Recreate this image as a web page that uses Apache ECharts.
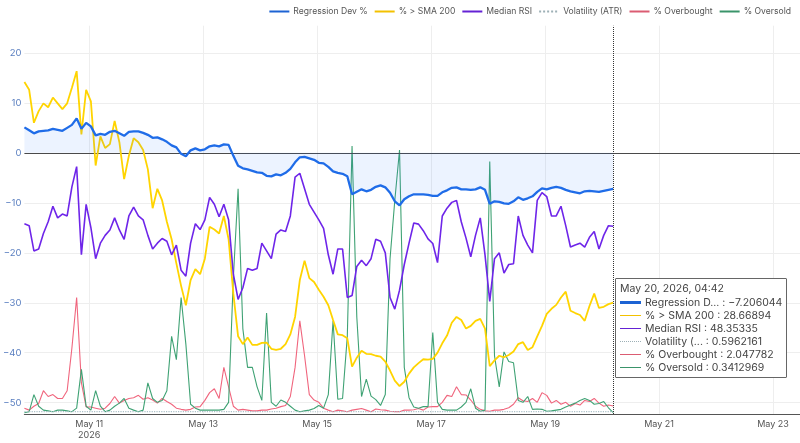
<!DOCTYPE html>
<html><head><meta charset="utf-8">
<script src="https://cdn.jsdelivr.net/npm/echarts@6/dist/echarts.min.js"></script>
<style>html,body{margin:0;padding:0;background:#fff}#c{width:800px;height:443px}</style>
</head><body><div id="c"></div>
<script>
// ---- data (2-hour samples starting 2026-05-09 20:42 UTC) ----
const START_ISO = '2026-05-09T20:42:00Z';
const STEP_HOURS = 2;

const regDev = [5.1,4.5,3.9,4.3,4.4,4.5,4.8,4.6,4.4,5.0,5.6,6.9,4.8,6.0,5.3,3.5,3.8,3.6,4.2,4.4,
3.9,3.4,4.2,4.3,4.3,4.0,3.6,3.0,3.1,2.7,2.2,1.5,1.1,-0.2,-0.7,0.5,0.9,0.5,0.7,1.3,
1.5,1.3,1.7,1.6,-0.6,-2.6,-3.1,-3.3,-3.6,-3.9,-4.0,-4.6,-4.7,-4.3,-4.5,-4.0,-3.2,-1.9,-0.9,-0.8,
-1.1,-1.4,-2.0,-2.1,-2.8,-3.7,-4.0,-4.2,-4.7,-8.3,-7.8,-7.3,-7.7,-7.4,-6.8,-6.5,-6.9,-8.0,-9.7,-10.5,
-9.3,-8.7,-8.3,-8.3,-8.3,-8.4,-8.6,-8.6,-7.9,-7.5,-7.0,-6.9,-7.3,-7.3,-7.4,-7.3,-6.9,-7.4,-10.2,-9.7,
-9.8,-10.1,-10.2,-9.7,-8.9,-9.4,-9.1,-8.7,-7.8,-7.1,-7.3,-7.0,-6.8,-7.0,-7.4,-7.7,-7.9,-8.1,-7.7,-7.6,
-7.7,-7.8,-7.6,-7.4,-7.206044];

const smaAbove = [85.5,83.5,75,78,80,79,81.5,80,78.5,80,84,88.3,72,83.5,80.5,64,71.5,68.5,69.5,75.5,
70,60.5,66.5,71,70,68,63,53,58,55,49.5,45,38.8,33,28,34.5,37.3,36,40,48.2,
47.5,46.5,51,45,31,20,18,19.7,17.8,17.8,18.3,18.4,16.8,16.5,16.8,18,20.5,25,34.5,39.5,
35,34,32,30.2,28,24.2,20.5,20.3,19.5,12.2,14.5,16.3,15.5,15.4,15,14.8,13.5,11.2,8.6,7.2,
8.3,10.4,12,13.1,14.1,14,14.2,15.8,18.2,20.2,23.5,25,24.2,22,22.7,24,24.5,22,12.3,13.8,
15,14.6,15.2,16.1,18,18.5,16.5,17.2,20,22.7,25.8,27.1,28.1,30,31.5,26.6,26,25.5,24,27.8,
31,27.3,27.6,28.3,28.66894];

const medianRsi = [49,48.5,42,42.5,46.5,49.5,53.5,50.5,51.5,51,58.5,63.7,41,54,48,40,44,46,47.4,50.5,
47.4,45,51,53.3,51,50,46,42.5,44,45.2,44.5,41,43.5,37,35.5,44,49,47.5,50,55.8,
54,50.8,54,50,36,29.5,32.5,37.5,37,37.5,44,42,40,46.3,47.4,47,51,61,62,58,
54,52,50,47.8,41,36,42.5,42.5,30,30.5,38,39.6,38.2,40,45,44.5,41.5,30,27,31.9,
38.5,44,49.2,48.9,47.2,45.1,43.9,39,51,53,54.5,55,49.5,45.3,40.5,46,50.5,41,29,40,
41.5,36.3,38.5,38.7,51,46,43.5,41.5,55,57,56,51,51,53.5,48.5,43,43.5,44,43,45.5,
47,42.5,46,48.5,48.35335];

const overbought = [1.5,1,2,2.7,6,4.5,5,4,4,6,17,30,8,1.8,1.8,1.5,1.2,1.5,2.7,4.5,
2.8,3.5,4,4.2,4.8,3.8,4.2,3.6,2.8,4,3.2,2.5,1.5,1.2,1,1.2,1.8,1.9,3.5,5.5,
6.5,4,12,7,2,1,1.2,1,0.8,0.8,1,1,1.3,1.5,1.9,2.2,4.5,12,24,15,
5,3.6,3,1.5,1,0.6,1,0.8,0.6,1,1.2,1.4,1,0.6,1.3,1.1,1,0.7,0.6,0.6,
1,1,1.1,1.4,1,1.8,1.9,1.9,3,4.8,4.5,7,5,4.9,3.6,2,1.2,0.8,0.7,1,
1,1.2,1.6,2.5,4.2,3.4,3.2,4,3,5.5,4.8,2.8,3.5,2.5,3,2,2.7,2.3,3.5,3.2,
4,2.8,2,2.3,2.047782];

const oversold = [0.3,0.6,5,2,1,0.8,0.6,1,1,0.8,0.6,1.5,11.5,2,1,6,2,0.6,1,2,
2.8,4,1.5,1,0.6,1,8,4,3,3.5,6,20,14,30,18,2.5,1.5,1,1,1,
1,1,1.2,3,35,58,22,12,12,7,3.5,26,3,2,3.6,3,2,1,0.6,0.8,
1,1.4,2.2,1.5,5,24,3.8,4,20,69,25,4.5,9,4.6,3.7,2.2,5,40,55,68,
12,4.2,1.8,1.5,1.9,1.9,21,3,1.2,1,1,1,1.8,3,6.5,1.5,0.7,1,65,15,
7,16,13.5,13.2,3.5,3,4.5,1.2,1.3,1.2,0.7,0.8,1,1.2,1.8,2.3,2.8,3.5,4,3.5,
2.5,2.7,3.2,1.6,0.3412969];

const volTimes = ['2026-05-09T20:42:00Z','2026-05-10T20:42:00Z','2026-05-11T20:42:00Z','2026-05-12T20:42:00Z',
'2026-05-13T20:42:00Z','2026-05-14T20:42:00Z','2026-05-15T20:42:00Z','2026-05-16T20:42:00Z',
'2026-05-17T20:42:00Z','2026-05-18T20:42:00Z','2026-05-19T20:42:00Z','2026-05-20T04:42:00Z'];
const volatility = [0.62,0.6,0.61,0.63,0.6,0.58,0.6,0.61,0.59,0.6,0.6,0.5962161];

const tickDates = ['2026-05-11','2026-05-13','2026-05-15','2026-05-17','2026-05-19','2026-05-21','2026-05-23'];
const yTicks = [-50,-40,-30,-20,-10,0,10,20];
const seriesNames = ['Regression Dev %','% > SMA 200','Median RSI','Volatility (ATR)','% Overbought','% Oversold'];

// ---- build ----
const MS_H = 3600*1000;
const start = Date.parse(START_ISO);
const times = regDev.map((_, i) => start + i*STEP_HOURS*MS_H);
const pair = arr => arr.map((v, i) => [times[i], v]);
const tickVals = tickDates.map(d => Date.parse(d + 'T00:00:00Z'));
const xMin = start;
const xMax = tickVals[0] + 12.474*24*MS_H;
const MONTHS = ['Jan','Feb','Mar','Apr','May','Jun','Jul','Aug','Sep','Oct','Nov','Dec'];
const pad = n => String(n).padStart(2,'0');
const minus = s => String(s).replace('-', '\u2212');
function fmtNum(v){ let s = Number(v).toPrecision(7); if (s.indexOf('.')>=0) s = s.replace(/0+$/,'').replace(/\.$/,''); return minus(s); }
function fmtDate(t){ const d = new Date(t); return MONTHS[d.getUTCMonth()]+' '+d.getUTCDate()+', '+d.getUTCFullYear()+', '+pad(d.getUTCHours())+':'+pad(d.getUTCMinutes()); }

const C = {reg:'#1d63d3', sma:'#f3c100', rsi:'#6422d4', vol:'#9db0b6', ob:'#db5c72', os:'#3a946a'};
const iconCss = ['3px solid '+C.reg,'1.5px solid '+C.sma,'1.5px solid '+C.rsi,'1.5px dotted '+C.vol,'1.5px solid '+C.ob,'1.5px solid '+C.os];
const FONT = 'Inter, "Open Sans", sans-serif';

const chart = echarts.init(document.getElementById('c'), null, {renderer:'canvas'});
chart.setOption({
  animation:false,
  textStyle:{fontFamily:FONT},
  grid:{left:19, right:0, top:25.7, bottom:29, containLabel:false},
  legend:{top:2, right:4, itemWidth:20, itemHeight:8, itemGap:6,
    itemStyle:{opacity:0, borderWidth:0},
    textStyle:{fontSize:8.6, color:'#555', fontFamily:FONT, padding:[0,0,0,-1]}, data:seriesNames},
  tooltip:{trigger:'axis', triggerOn:'none', alwaysShowContent:true, transitionDuration:0,
    backgroundColor:'#fff', borderColor:'#666', borderWidth:1, padding:[3,4],
    textStyle:{fontSize:10.5, lineHeight:13, color:'#444', fontFamily:FONT},
    extraCssText:'box-shadow:none;border-radius:1px;line-height:13px;',
    position:function(){ return [615, 278]; },
    axisPointer:{type:'line', lineStyle:{color:'#333', type:'dotted', width:1}, label:{show:false}},
    formatter:function(params){
      let h = '<div style="font-family:'+FONT.replace(/"/g,"'")+';font-size:10.5px;color:#444;line-height:13px">';
      h += '<div style="height:14px">'+fmtDate(params[0].axisValue)+'</div>';
      params.forEach(p => {
        const idx = seriesNames.indexOf(p.seriesName);
        let n = p.seriesName; if (n.length > 13) n = n.slice(0,12)+'...';
        h += '<div style="height:13px;display:flex;align-items:center"><span style="display:inline-block;width:21px;margin:0 4px 0 0;border-top:'+iconCss[idx]+'"></span>'+n+' : '+fmtNum(p.value[1])+'</div>';
      });
      return h + '</div>';
    }
  },
  xAxis:{type:'value', min:xMin, max:xMax,
    axisLine:{show:true, onZero:false, lineStyle:{color:'#555', width:1.2}},
    axisTick:{show:false, customValues:tickVals},
    axisLabel:{customValues:tickVals, color:'#555', fontSize:9, margin:5, lineHeight:11,
      formatter:function(v){ const d=new Date(v); const s=MONTHS[d.getUTCMonth()]+' '+d.getUTCDate(); return v===tickVals[0] ? s+'\n'+d.getUTCFullYear() : s; }},
    splitLine:{show:true, lineStyle:{color:'#eeeeee', width:1}}
  },
  yAxis:[
    {type:'value', min:-52.26, max:25.44,
     axisLine:{show:false}, axisTick:{show:false, customValues:yTicks},
     axisLabel:{customValues:yTicks, color:'#5a7fc0', fontSize:9.5, margin:3, formatter:v=>minus(v)},
     splitLine:{show:true, lineStyle:{color:'#eeeeee', width:1}}},
    {type:'value', min:0, max:100, show:false, splitLine:{show:false}}
  ],
  series:[
    {name:seriesNames[0], type:'line', yAxisIndex:0, data:pair(regDev), symbol:'none', z:6,
     lineStyle:{color:C.reg, width:2.3}, itemStyle:{color:C.reg},
     areaStyle:{color:'rgba(30,110,230,0.12)', origin:0},
     markLine:{silent:true, symbol:['none','none'], label:{show:false}, animation:false,
       lineStyle:{color:'#4a4a4a', width:1.2, type:'solid'}, data:[{yAxis:0}]}},
    {name:seriesNames[1], type:'line', yAxisIndex:1, data:pair(smaAbove), symbol:'none', z:5,
     lineStyle:{color:C.sma, width:1.8}, itemStyle:{color:C.sma}},
    {name:seriesNames[2], type:'line', yAxisIndex:1, data:pair(medianRsi), symbol:'none', z:5,
     lineStyle:{color:C.rsi, width:1.6}, itemStyle:{color:C.rsi}},
    {name:seriesNames[3], type:'line', yAxisIndex:1, data:volTimes.map((t,i)=>[Date.parse(t), volatility[i]]), symbol:'none', z:4,
     lineStyle:{color:C.vol, width:1.2, type:'dotted'}, itemStyle:{color:C.vol}},
    {name:seriesNames[4], type:'line', yAxisIndex:1, data:pair(overbought), symbol:'none', z:3,
     lineStyle:{color:C.ob, width:1.1}, itemStyle:{color:C.ob}},
    {name:seriesNames[5], type:'line', yAxisIndex:1, data:pair(oversold), symbol:'none', z:3,
     lineStyle:{color:C.os, width:1.1}, itemStyle:{color:C.os}}
  ]
});
chart.dispatchAction({type:'showTip', seriesIndex:0, dataIndex:regDev.length-1});
</script></body></html>
